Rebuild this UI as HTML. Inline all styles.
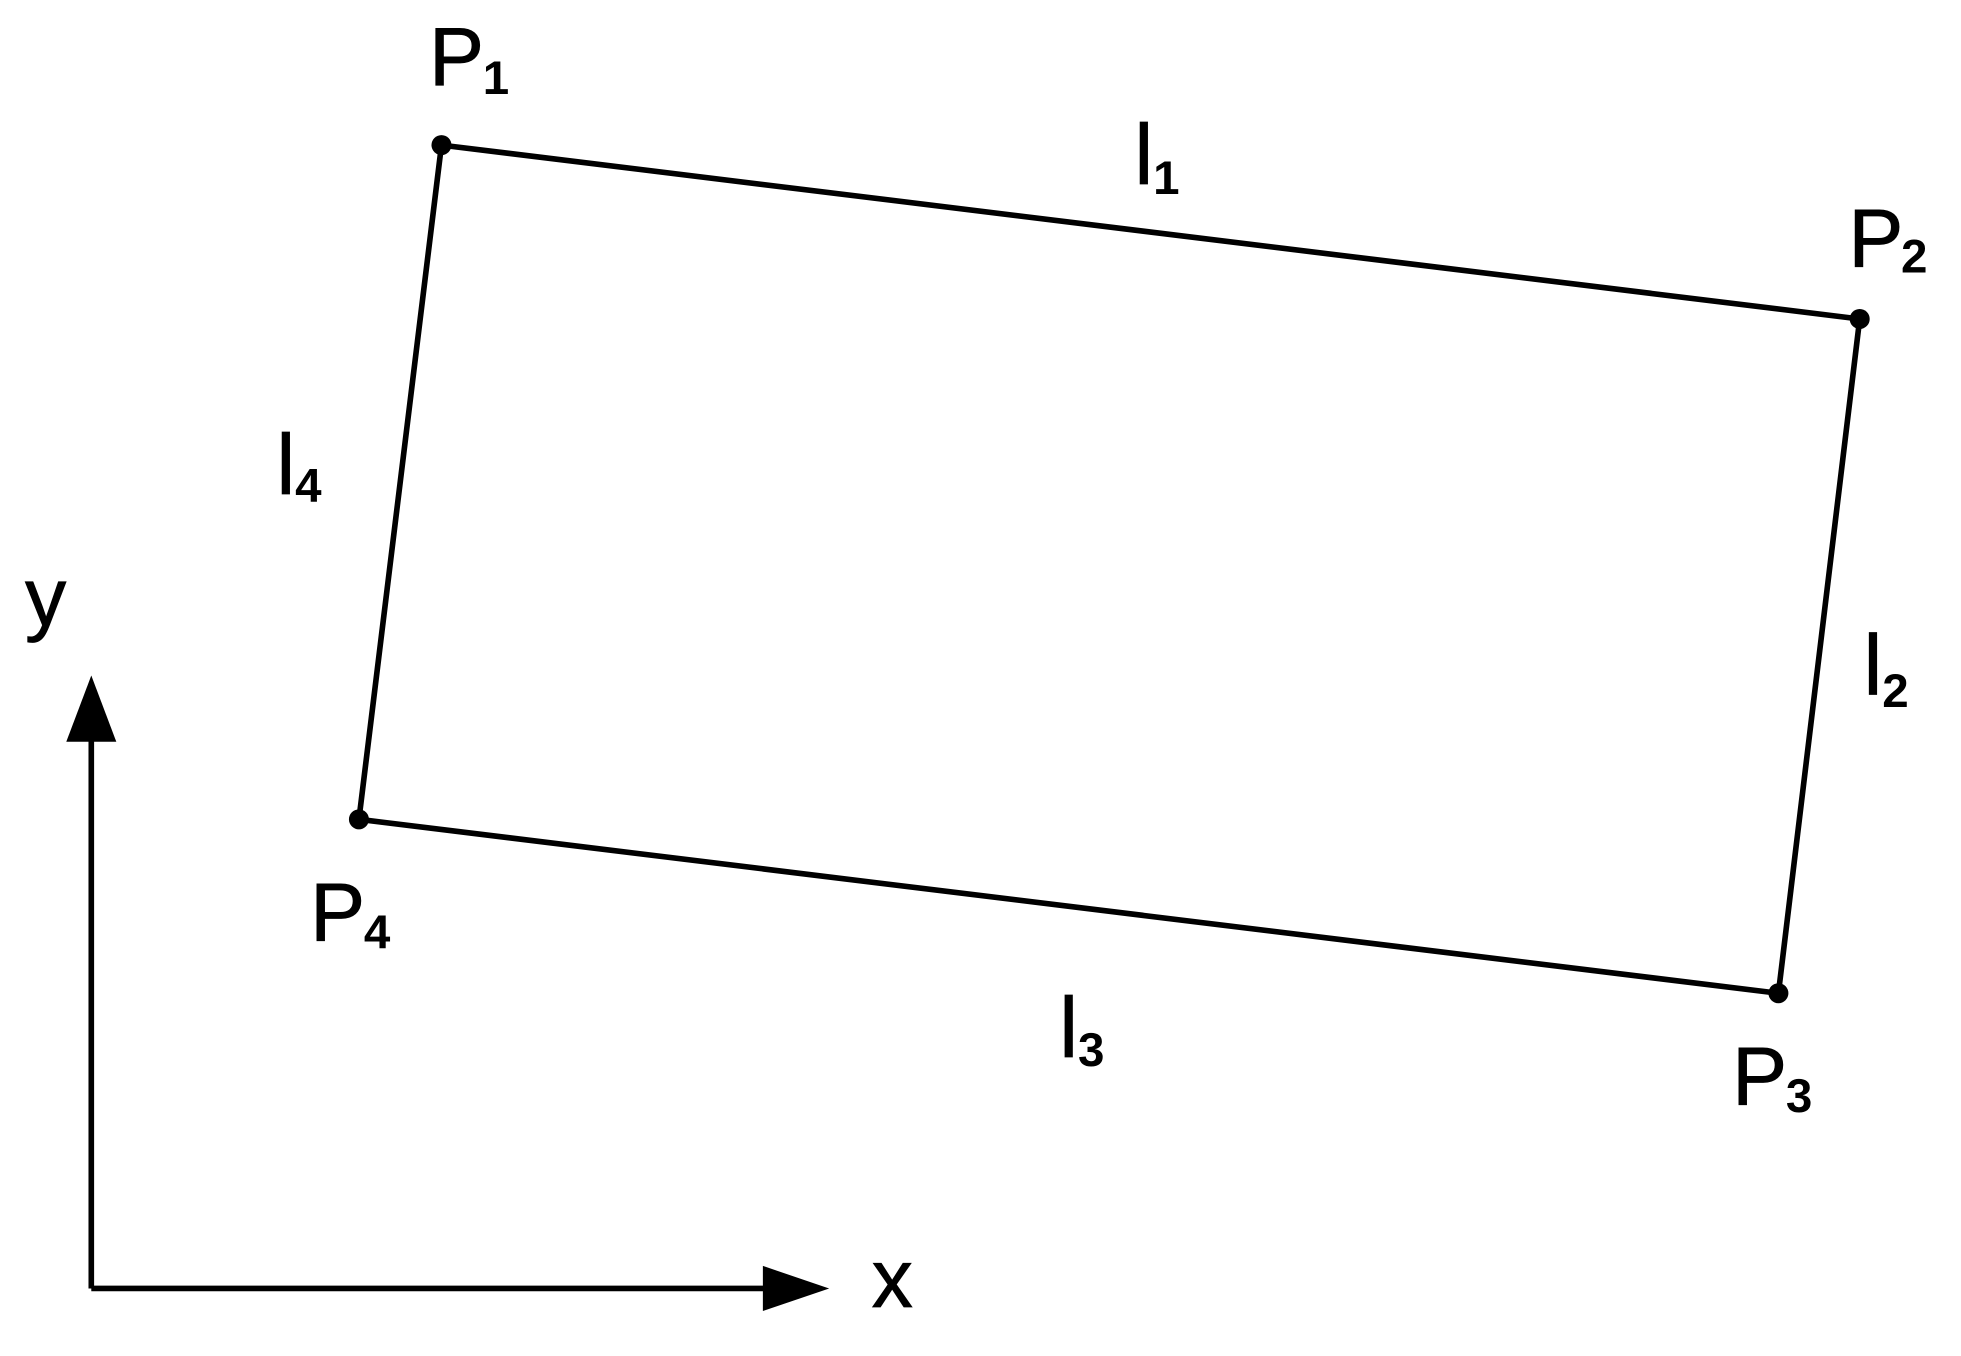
<!DOCTYPE html>
<html><head><meta charset="utf-8"><style>html,body{margin:0;padding:0;background:#fff}svg{display:block}</style></head>
<body>
<svg width="1961" height="1356" viewBox="0 0 1568 1084" preserveAspectRatio="none" xmlns="http://www.w3.org/2000/svg">
<rect width="1568" height="1084" fill="#fff"/>
<g stroke="#000" stroke-width="4.5" fill="none" stroke-linejoin="round">
<polygon points="353,116 1487,255 1422,794 287,655"/>
<line x1="73" y1="590" x2="73" y2="1030"/>
<line x1="73" y1="1030" x2="612" y2="1030"/>
</g>
<g fill="#000">
<circle cx="353" cy="116" r="8"/>
<circle cx="1487" cy="255" r="8"/>
<circle cx="1422" cy="794" r="8"/>
<circle cx="287" cy="655" r="8"/>
<polygon points="73,540 53,593 93,593"/>
<polygon points="663,1030 610,1012 610,1048"/>
</g>
<g font-family="Liberation Sans, Arial, sans-serif" fill="#000" stroke="#000" stroke-width="0.6">
<text x="343" y="68" font-size="66">P</text><text x="386" y="75" font-size="38" font-weight="bold" stroke="none">1</text>
<text x="907" y="147" font-size="68">l</text><text x="922" y="155" font-size="38" font-weight="bold" stroke="none">1</text>
<text x="1478" y="213" font-size="66">P</text><text x="1520" y="218" font-size="38" font-weight="bold" stroke="none">2</text>
<text x="221" y="395" font-size="68">l</text><text x="236" y="401" font-size="38" font-weight="bold" stroke="none">4</text>
<text x="1490" y="555" font-size="68">l</text><text x="1505" y="565" font-size="38" font-weight="bold" stroke="none">2</text>
<text x="248" y="752" font-size="66">P</text><text x="291" y="758" font-size="38" font-weight="bold" stroke="none">4</text>
<text x="847" y="845" font-size="68">l</text><text x="862" y="852" font-size="38" font-weight="bold" stroke="none">3</text>
<text x="1385" y="883" font-size="66">P</text><text x="1428" y="889" font-size="38" font-weight="bold" stroke="none">3</text>
<text x="20" y="500" font-size="66">y</text>
<text x="697" y="1045" font-size="66">x</text>
</g>
</svg>
</body></html>
